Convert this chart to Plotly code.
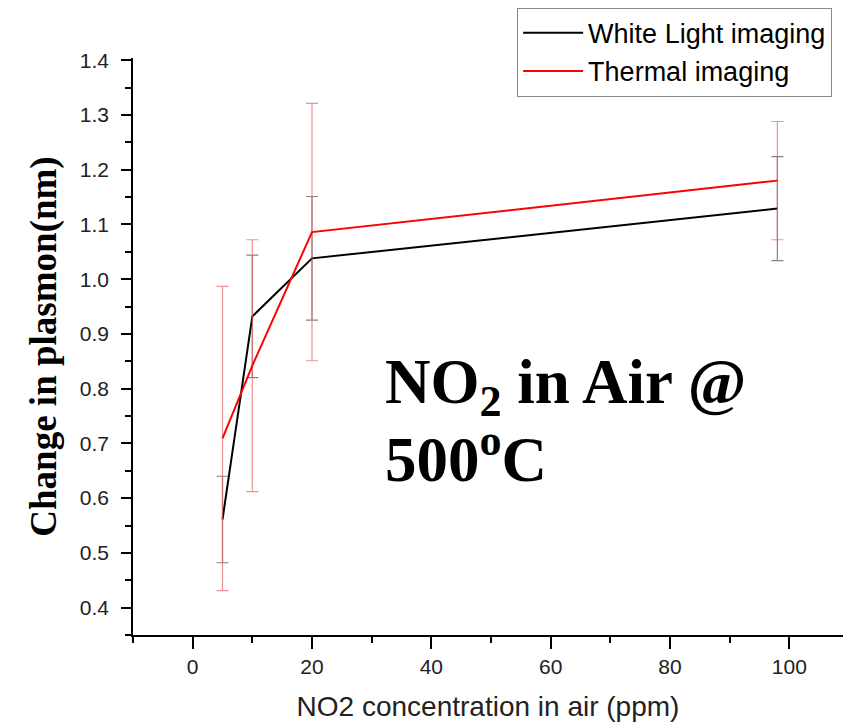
import plotly.graph_objects as go

# Data
conc_ppm = [5, 10, 20, 98]
white_light = [0.561, 0.932, 1.038, 1.129]
white_light_err = [0.079, 0.112, 0.113, 0.095]
thermal = [0.709, 0.842, 1.086, 1.180]
thermal_err = [0.278, 0.230, 0.235, 0.108]

y_ticks = [0.4, 0.5, 0.6, 0.7, 0.8, 0.9, 1.0, 1.1, 1.2, 1.3, 1.4]
y_tick_labels = ["0.4", "0.5", "0.6", "0.7", "0.8", "0.9", "1.0", "1.1", "1.2", "1.3", "1.4"]
x_ticks = [0, 20, 40, 60, 80, 100]

fig = go.Figure()
fig.add_trace(go.Scatter(
    x=conc_ppm, y=white_light, mode="lines", name="White Light imaging",
    line=dict(color="black", width=2),
    error_y=dict(type="data", array=white_light_err, visible=True,
                 color="rgba(110,110,110,0.85)", thickness=1.2, width=6),
))
fig.add_trace(go.Scatter(
    x=conc_ppm, y=thermal, mode="lines", name="Thermal imaging",
    line=dict(color="#ff0000", width=2),
    error_y=dict(type="data", array=thermal_err, visible=True,
                 color="rgba(235,100,100,0.7)", thickness=1.2, width=6),
))

tickfont = dict(family="Liberation Sans, Arial", size=21, color="#222")

fig.update_layout(
    width=843, height=724,
    margin=dict(l=133, r=0, t=58, b=89),
    paper_bgcolor="white", plot_bgcolor="white",
    showlegend=True,
    legend=dict(x=0.541, y=1.087, xanchor="left", yanchor="top",
                bgcolor="white", bordercolor="#888", borderwidth=1,
                font=dict(family="Liberation Sans, Arial", size=27, color="black"),
                itemwidth=60, tracegroupgap=0),
    xaxis=dict(range=[-10, 109], tickvals=x_ticks, ticks="outside", ticklen=12,
               tickwidth=1.5, tickcolor="black", showline=True, linecolor="black",
               linewidth=1.5, showgrid=False, zeroline=False, tickfont=tickfont,
               minor=dict(dtick=10, tick0=0, ticks="outside", ticklen=6,
                          tickwidth=1.5, tickcolor="black", showgrid=False),
               title=dict(text="NO2 concentration in air (ppm)", standoff=19,
                          font=dict(family="Liberation Sans, Arial", size=28, color="#222"))),
    yaxis=dict(range=[0.35, 1.404], tickvals=y_ticks, ticktext=y_tick_labels,
               ticks="outside", ticklen=10, tickwidth=1.5, tickcolor="black",
               showline=True, linecolor="black", linewidth=1.5, showgrid=False,
               zeroline=False, tickfont=tickfont, ticklabelstandoff=8,
               minor=dict(dtick=0.05, tick0=0.35, ticks="outside", ticklen=6,
                          tickwidth=1.5, tickcolor="black", showgrid=False),
               title=dict(text="Change in plasmon(nm)", standoff=12,
                          font=dict(family="Liberation Serif, Times New Roman", size=37,
                                    color="black", weight="bold"))),
)

W0, W1, H0, H1 = 133, 843, 58, 635
def px(xp):
    return (xp - W0) / (W1 - W0)
def py(yp):
    return (H1 - yp) / (H1 - H0)

ann_font = dict(family="Liberation Serif, Times New Roman", size=63, color="black")
fig.add_annotation(x=px(383), y=py(428), xref="paper", yref="paper",
                   xanchor="left", yanchor="bottom",
                   text="<b>NO<sub>2</sub> in Air @</b>", showarrow=False, font=ann_font)
fig.add_annotation(x=px(383), y=py(497), xref="paper", yref="paper",
                   xanchor="left", yanchor="bottom",
                   text="<b>500<sup>o</sup>C</b>", showarrow=False, font=ann_font)

fig.write_html("out.html", config={"displayModeBar": False},
               post_script="document.body.style.margin='0';")
